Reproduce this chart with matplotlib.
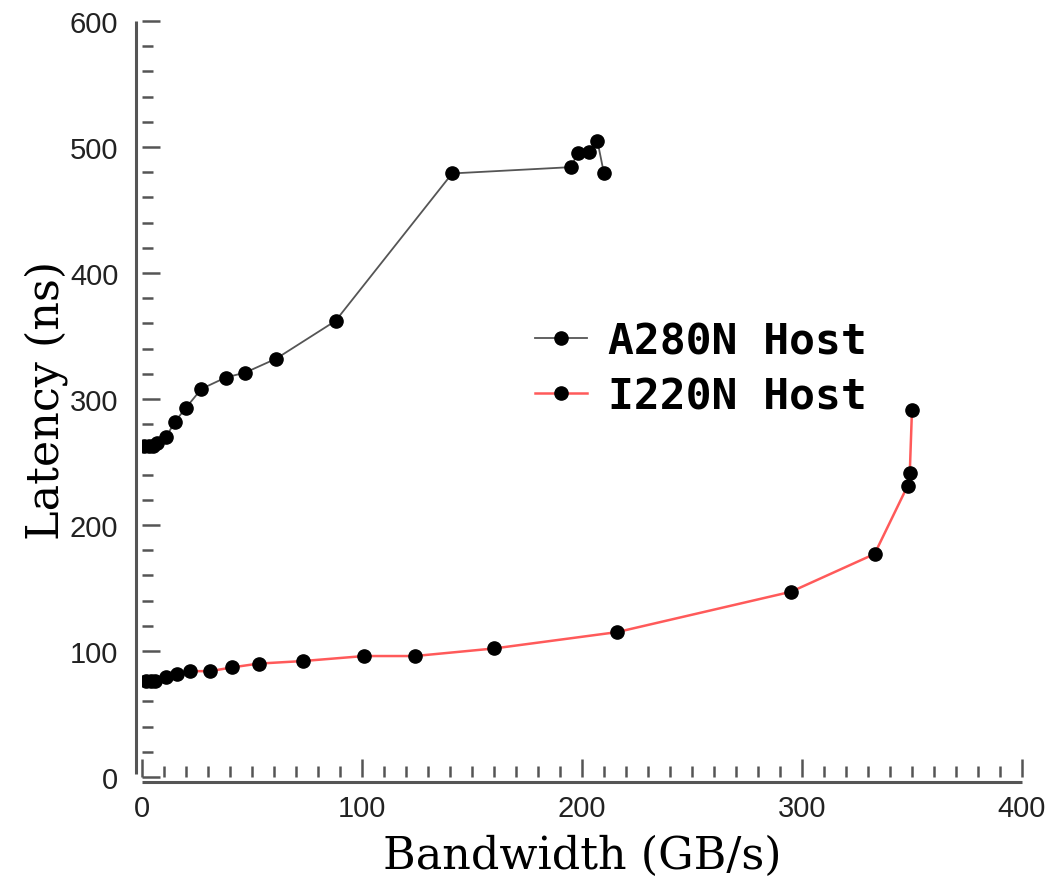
import matplotlib

matplotlib.use("Agg")

import matplotlib.pyplot as plt
import matplotlib.transforms as mtransforms
from matplotlib.ticker import MultipleLocator

# A280N host: bandwidth (GB/s) vs latency (ns)
a280_bw = [1, 3, 5, 7, 11, 15, 20, 27, 38, 47, 61, 88, 141, 195, 198, 203, 207, 210]
a280_lat = [263, 263, 263, 265, 270, 282, 293, 308, 317, 321, 332, 362, 479, 484, 495, 496, 505, 479]

# I220N host
i220_bw = [2, 4, 6, 11, 16, 22, 31, 41, 53, 73, 101, 124, 160, 216, 295, 333, 348, 349, 350]
i220_lat = [76, 76, 76, 79, 82, 84, 84, 87, 90, 92, 96, 96, 102, 115, 147, 177, 231, 241, 291]

x_ticks = [0, 100, 200, 300, 400]
y_ticks = [0, 100, 200, 300, 400, 500, 600]

AXIS_GREY = "#555555"

fig = plt.figure(figsize=(10.5, 8.79), dpi=100)
ax = fig.add_axes([0.1352, 0.1149, 0.8381, 0.8601])

ax.plot(a280_bw, a280_lat, color="#555555", linewidth=1.3, marker="o",
        markersize=9.5, markerfacecolor="black", markeredgecolor="black",
        label="A280N Host", zorder=3)
ax.plot(i220_bw, i220_lat, color="#ff5a5a", linewidth=1.8, marker="o",
        markersize=9.5, markerfacecolor="black", markeredgecolor="black",
        label="I220N Host", zorder=3)

ax.set_xlim(0, 400)
ax.set_ylim(0, 600)
ax.set_xticks(x_ticks)
ax.set_yticks(y_ticks)
ax.xaxis.set_minor_locator(MultipleLocator(10))
ax.yaxis.set_minor_locator(MultipleLocator(20))

for side in ["top", "right", "left", "bottom"]:
    ax.spines[side].set_visible(False)

ax.tick_params(axis="both", which="both", direction="in", color=AXIS_GREY,
               width=1.8, top=False, right=False)
ax.tick_params(axis="both", which="major", length=13)
ax.tick_params(axis="both", which="minor", length=8)
ax.tick_params(axis="y", which="major", pad=17, labelsize=21, labelcolor="#222222")
ax.tick_params(axis="x", which="major", pad=12, labelsize=21, labelcolor="#222222")
for lbl in ax.get_xticklabels() + ax.get_yticklabels():
    lbl.set_fontfamily("Liberation Sans")

# detached axis lines, offset a few pixels from the data area
left_tr = ax.transAxes + mtransforms.ScaledTranslation(-6 / 100, 0, fig.dpi_scale_trans)
bottom_tr = ax.transAxes + mtransforms.ScaledTranslation(0, -5 / 100, fig.dpi_scale_trans)
ax.plot([0, 0], [0.004, 1.0], transform=left_tr, color=AXIS_GREY, linewidth=2.2,
        clip_on=False, solid_capstyle="butt")
ax.plot([0, 1.0], [0, 0], transform=bottom_tr, color=AXIS_GREY, linewidth=2.2,
        clip_on=False, solid_capstyle="butt")

ax.set_xlabel("Bandwidth (GB/s)", fontsize=32, family="DejaVu Serif", labelpad=9)
ax.set_ylabel("Latency (ns)", fontsize=32, family="DejaVu Serif", labelpad=1)

ax.legend(loc="center left", bbox_to_anchor=(0.4466, 0.5397), frameon=False,
          prop={"family": "DejaVu Sans Mono", "weight": "bold", "size": 31},
          handlelength=1.2, handletextpad=0.5, labelspacing=0.3,
          borderpad=0, borderaxespad=0)

fig.savefig("out.png", dpi=100)
